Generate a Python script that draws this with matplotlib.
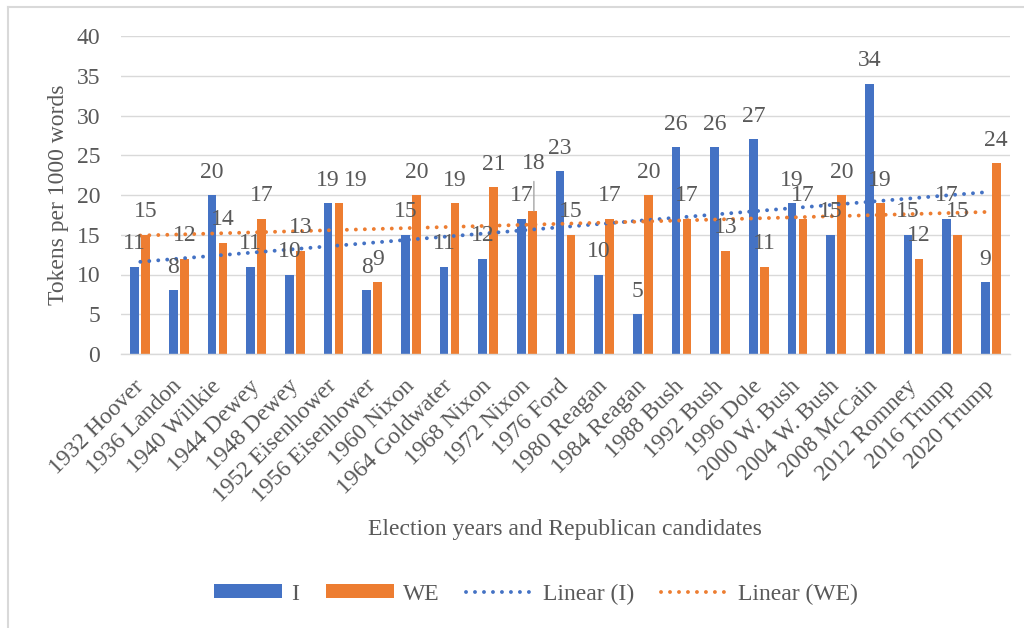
import numpy as np
import matplotlib.pyplot as plt
from matplotlib.lines import Line2D

plt.rcParams['font.family'] = ['Liberation Serif', 'DejaVu Serif']

candidates = ["1932 Hoover", "1936 Landon", "1940 Willkie", "1944 Dewey", "1948 Dewey",
              "1952 Eisenhower", "1956 Eisenhower", "1960 Nixon", "1964 Goldwater",
              "1968 Nixon", "1972 Nixon", "1976 Ford", "1980 Reagan", "1984 Reagan",
              "1988 Bush", "1992 Bush", "1996 Dole", "2000 W. Bush", "2004 W. Bush",
              "2008 McCain", "2012 Romney", "2016 Trump", "2020 Trump"]
i_tokens = [11, 8, 20, 11, 10, 19, 8, 15, 11, 12, 17, 23, 10, 5, 26, 26, 27, 19, 15, 34, 15, 17, 9]
we_tokens = [15, 12, 14, 17, 13, 19, 9, 20, 19, 21, 18, 15, 17, 20, 17, 13, 11, 17, 20, 19, 12, 15, 24]
y_ticks = [0, 5, 10, 15, 20, 25, 30, 35, 40]

BLUE = '#4472C4'
ORANGE = '#ED7D31'
TEXT = '#595959'
GRID = '#D9D9D9'
FS = 17

fig = plt.figure(figsize=(10.24, 6.28), dpi=100)
ax = fig.add_axes([121 / 1024, 1 - 354 / 628, (1010 - 121) / 1024, (354 - 36) / 628])

x = np.arange(len(candidates))
w = 0.225
off = 0.142
h_i = ax.bar(x - off, i_tokens, width=w, color=BLUE, label='I', zorder=2)
h_we = ax.bar(x + off, we_tokens, width=w, color=ORANGE, label='WE', zorder=2)

# linear trendlines (least-squares fit over category index)
dots = dict(linestyle=(0, (0.01, 2.3)), linewidth=2.8, dash_capstyle='round', zorder=3)
trend_handles = []
for vals, col, lab in [(i_tokens, BLUE, 'Linear (I)'), (we_tokens, ORANGE, 'Linear (WE)')]:
    k, b = np.polyfit(x, vals, 1)
    ln, = ax.plot(x, k * x + b, color=col, label=lab, **dots)
    trend_handles.append(ln)

# value labels; a couple of them are nudged to stay readable
label_kw = dict(textcoords='offset points', ha='center', va='center', fontsize=FS, color=TEXT, zorder=4)
we_nudge = {"1952 Eisenhower": (12, 16.5)}
for xi, v in zip(x - off, i_tokens):
    ax.annotate(str(v), (xi, v), xytext=(0, 16.5), **label_kw)
for name, xi, v in zip(candidates, x + off, we_tokens):
    if name == "1972 Nixon":
        ax.annotate(str(v), (xi, v), xytext=(1, 34), **label_kw)
        ax.annotate('', (xi + 0.04, v), xytext=(xi + 0.04, v + 3.7),
                    arrowprops=dict(arrowstyle='-', color='#A6A6A6', lw=1.0, shrinkA=0, shrinkB=0))
    else:
        ax.annotate(str(v), (xi, v), xytext=we_nudge.get(name, (0, 16.5)), **label_kw)

ax.set_xlim(-0.5, len(candidates) - 0.5)
ax.set_ylim(0, 40)
ax.set_yticks(y_ticks)
ax.set_yticklabels([str(t) for t in y_ticks])
ax.set_xticks(x)
ax.set_xticklabels(candidates, rotation=45, ha='right', va='center', rotation_mode='anchor')
ax.tick_params(axis='both', length=0, labelsize=FS, labelcolor=TEXT)
ax.tick_params(axis='y', pad=15)
ax.tick_params(axis='x', pad=21)
ax.grid(axis='y', color=GRID, linewidth=1.0, zorder=0)
ax.set_axisbelow(True)
for s in ['top', 'right', 'left']:
    ax.spines[s].set_visible(False)
ax.spines['bottom'].set_color(GRID)
ax.spines['bottom'].set_linewidth(1.0)

ax.set_ylabel('Tokens per 1000 words', fontsize=FS, color=TEXT)
ax.yaxis.set_label_coords(-0.058, 0.5)
fig.text(565 / 1024, 1 - 529 / 628, 'Election years and Republican candidates',
         ha='center', va='center', fontsize=FS, color=TEXT)

fig.legend([h_i, h_we] + trend_handles, ['I', 'WE', 'Linear (I)', 'Linear (WE)'],
           loc='center', bbox_to_anchor=(536 / 1024, 1 - 594 / 628),
           ncol=4, frameon=False, fontsize=FS, labelcolor=TEXT,
           handlelength=2.9, handleheight=0.5, handletextpad=0.35, columnspacing=1.15)

# chart frame
fig.add_artist(Line2D([8 / 1024, 8 / 1024], [0, 1 - 7 / 628], color=GRID, lw=1.5))
fig.add_artist(Line2D([8 / 1024, 1], [1 - 7 / 628, 1 - 7 / 628], color=GRID, lw=1.5))

fig.savefig('out.png', dpi=100, facecolor='white')
